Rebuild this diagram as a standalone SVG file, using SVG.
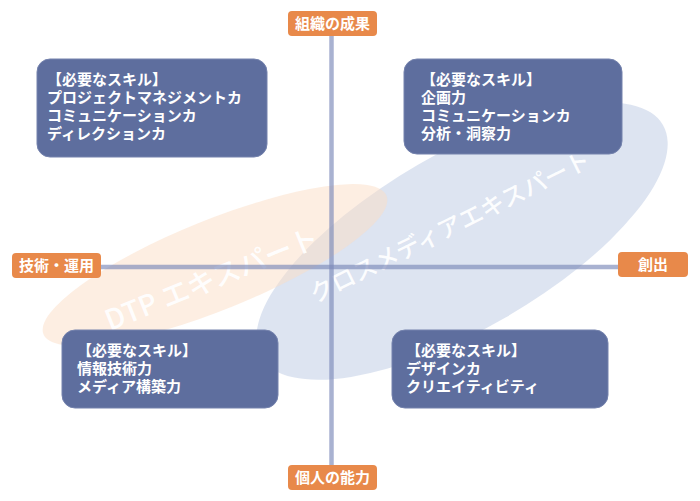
<svg xmlns="http://www.w3.org/2000/svg" width="700" height="501" viewBox="0 0 700 501">
  <style>
    .box { fill: #5e6e9e; stroke: #7482ad; stroke-width: 1; }
    .btxt { font-family: "Noto Sans CJK JP", "Noto Sans", sans-serif; font-weight: bold; font-size: 15px; fill: #ffffff; }
    .lbl { fill: #e8894a; }
    .ltxt { font-family: "Noto Sans CJK JP", "Noto Sans", sans-serif; font-weight: bold; font-size: 15px; fill: #ffffff; text-anchor: middle; }
    .etxt { font-family: "Noto Sans CJK JP", "Noto Sans", sans-serif; font-weight: 500; fill: #ffffff; fill-opacity: 0.95; }
    .axis { stroke: #7b89b8; stroke-opacity: 0.65; stroke-width: 4.5; fill: none; }
  </style>
  <rect width="700" height="501" fill="#ffffff"/>

  <g id="ellipse-crossmedia">
    <ellipse cx="462" cy="241" rx="232" ry="88" transform="rotate(-30 462 241)" fill="#bccae3" fill-opacity="0.5"/>
  </g>
  <g id="ellipse-dtp">
    <ellipse cx="215" cy="265" rx="185" ry="45" transform="rotate(-22 215 265)" fill="#fbddc5" fill-opacity="0.5"/>
  </g>
  <text class="etxt" x="110" y="331" font-size="28" transform="rotate(-22 110 331)">DTP エキスパート</text>
  <text class="etxt" x="315" y="303.5" font-size="24" transform="rotate(-26.4 315 303.5)">クロスメディアエキスパート</text>

  <g id="connectors">
    <line class="axis" x1="331.5" y1="35" x2="331.5" y2="466"/>
    <line class="axis" x1="101" y1="267" x2="618" y2="267"/>
  </g>

  <g id="label-top">
    <rect class="lbl" x="288" y="11" width="89" height="25" rx="4"/>
    <text class="ltxt" x="332.5" y="29">組織の成果</text>
  </g>
  <g id="label-left">
    <rect class="lbl" x="12" y="253" width="89" height="25" rx="4"/>
    <text class="ltxt" x="56.5" y="271">技術・運用</text>
  </g>
  <g id="label-right">
    <rect class="lbl" x="618" y="252" width="70" height="25" rx="4"/>
    <text class="ltxt" x="653" y="270">創出</text>
  </g>
  <g id="label-bottom">
    <rect class="lbl" x="288" y="465" width="89" height="25" rx="4"/>
    <text class="ltxt" x="332.5" y="483">個人の能力</text>
  </g>

  <g id="box-top-left">
    <rect class="box" x="37" y="59" width="230" height="98" rx="13"/>
    <text class="btxt" x="47" y="85">【必要なスキル】</text>
    <text class="btxt" x="47" y="103">プロジェクトマネジメントカ</text>
    <text class="btxt" x="47" y="121">コミュニケーションカ</text>
    <text class="btxt" x="47" y="139">ディレクションカ</text>
  </g>
  <g id="box-top-right">
    <rect class="box" x="404" y="59" width="218" height="95" rx="13"/>
    <text class="btxt" x="421" y="85">【必要なスキル】</text>
    <text class="btxt" x="421" y="103">企画力</text>
    <text class="btxt" x="421" y="121">コミュニケーションカ</text>
    <text class="btxt" x="421" y="139">分析・洞察力</text>
  </g>
  <g id="box-bottom-left">
    <rect class="box" x="62" y="330" width="216" height="78" rx="13"/>
    <text class="btxt" x="77" y="356">【必要なスキル】</text>
    <text class="btxt" x="77" y="374">情報技術力</text>
    <text class="btxt" x="77" y="392">メディア構築力</text>
  </g>
  <g id="box-bottom-right">
    <rect class="box" x="392" y="330" width="216" height="78" rx="13"/>
    <text class="btxt" x="406" y="356">【必要なスキル】</text>
    <text class="btxt" x="406" y="374">デザインカ</text>
    <text class="btxt" x="406" y="392">クリエイティビティ</text>
  </g>
</svg>
